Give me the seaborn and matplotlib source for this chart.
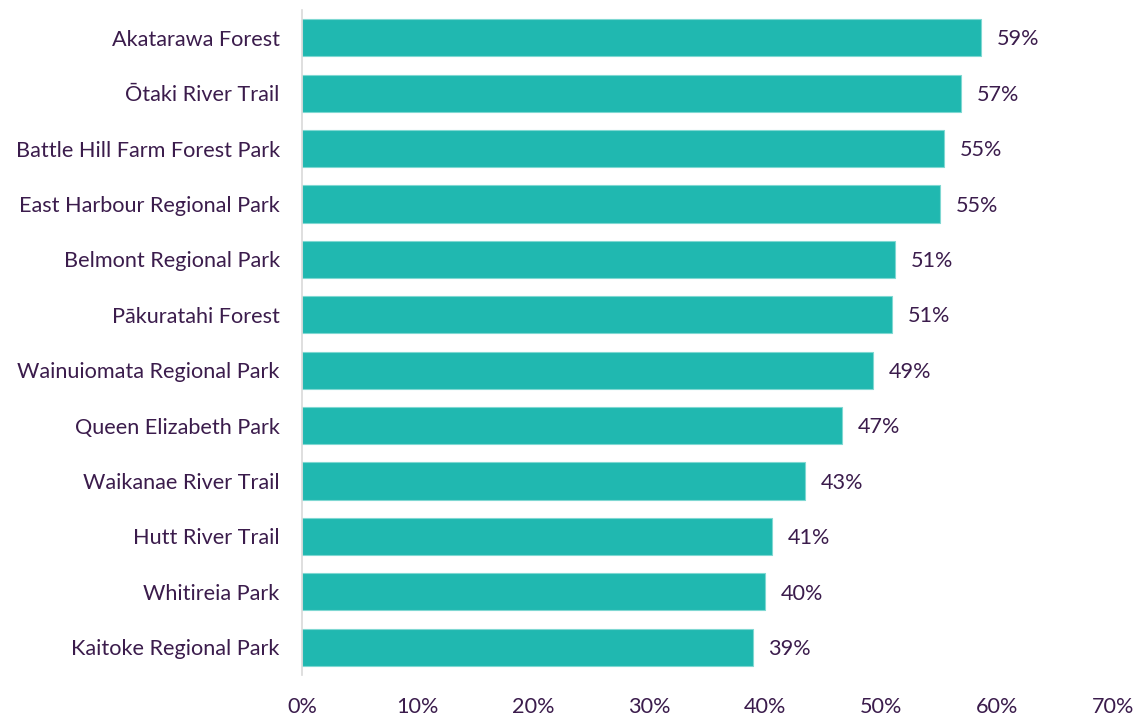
import matplotlib
matplotlib.use("Agg")
import matplotlib.pyplot as plt
import seaborn as sns
import pandas as pd
from matplotlib.ticker import PercentFormatter

parks = ["Akatarawa Forest", "Ōtaki River Trail", "Battle Hill Farm Forest Park",
         "East Harbour Regional Park", "Belmont Regional Park", "Pākuratahi Forest",
         "Wainuiomata Regional Park", "Queen Elizabeth Park", "Waikanae River Trail",
         "Hutt River Trail", "Whitireia Park", "Kaitoke Regional Park"]
values = [58.6, 56.9, 55.4, 55.1, 51.2, 50.9, 49.3, 46.6, 43.4, 40.6, 40.0, 38.9]
xticks = [0, 10, 20, 30, 40, 50, 60, 70]

df = pd.DataFrame({"park": parks, "value": values})

sns.set_theme(style="white")
plt.rcParams["font.family"] = ["Lato", "DejaVu Sans"]

TEXT = "#3B1C4C"
BAR = "#20B8B0"
FS = 15.6

fig = plt.figure(figsize=(11.42, 7.22), dpi=100)
ax = fig.add_axes([0.2644, 0.0651, 0.7102, 0.921])
sns.barplot(data=df, x="value", y="park", orient="h", color=BAR, width=0.67,
            saturation=1, edgecolor="#7FD8D2", linewidth=0.8, ax=ax)

for p, v in zip(ax.patches, values):
    ax.text(p.get_width() + 1.35, p.get_y() + p.get_height() / 2 + 0.03, f"{v:.0f}%",
            va="center", ha="left", fontsize=FS, color=TEXT)

ax.set_xlim(0, 70)
ax.set_ylim(11.5, -0.5)
ax.set_xticks(xticks)
ax.xaxis.set_major_formatter(PercentFormatter(decimals=0))
ax.set_xlabel("")
ax.set_ylabel("")
ax.tick_params(axis="x", length=0, pad=16, labelsize=FS, labelcolor=TEXT)
ax.tick_params(axis="y", length=0, pad=16, labelsize=FS, labelcolor=TEXT)
for s in ["top", "right", "bottom"]:
    ax.spines[s].set_visible(False)
ax.spines["left"].set_color("#D9D9D9")
ax.spines["left"].set_linewidth(1.2)
ax.grid(False)

fig.savefig("out.png", dpi=100, facecolor="white")
